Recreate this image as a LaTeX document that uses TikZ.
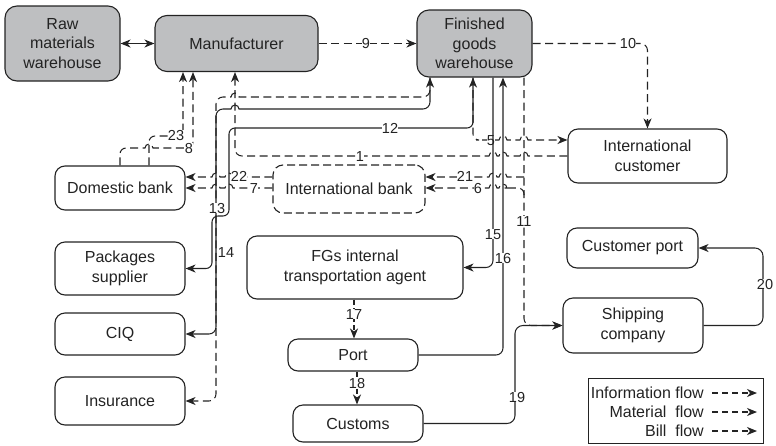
\documentclass[tikz,border=0pt]{standalone}
\usepackage{fontspec}
\setmainfont{Liberation Sans}
\usetikzlibrary{arrows.meta}
\definecolor{boxgray}{RGB}{190,191,193}
\definecolor{ink}{RGB}{35,35,35}

\begin{document}
\begin{tikzpicture}[x=1pt,y=1pt,
  >={Stealth[length=10pt,width=8pt,inset=3pt]},
  box/.style={draw=ink, fill=white, line width=1.1pt, rounded corners=10pt, align=center,
    font=\fontsize{16}{19.5}\selectfont, inner sep=0pt, text=ink},
  gbox/.style={box, fill=boxgray, rounded corners=12pt},
  dbox/.style={box, dash pattern=on 8pt off 4pt},
  ln/.style={draw=ink, line width=1.05pt},
  info/.style={ln, dash pattern=on 8pt off 4.5pt},
  sinfo/.style={ln, dash pattern=on 5pt off 3.5pt},
  mat/.style={ln},
  lbl/.style={fill=white, inner sep=0pt, text height=10.4pt, text depth=0pt,
    font=\fontsize{14.5}{14.5}\selectfont, text=ink},
  nolbl/.style={inner sep=0pt, text height=10.4pt, text depth=0pt,
    font=\fontsize{14.5}{14.5}\selectfont, text=ink},
  lgtext/.style={anchor=east, inner sep=0pt, font=\fontsize{16}{16}\selectfont, text=ink},
  hopR/.style 2 args={insert path={-- ({#1-4},{#2}) arc[start angle=180,end angle=0,radius=4]}},
  hopL/.style 2 args={insert path={-- ({#1+4},{#2}) arc[start angle=0,end angle=180,radius=4]}},
]
\useasboundingbox (0,0) rectangle (776,-445);

% ---------- nodes ----------
\node[gbox, minimum width=115pt, minimum height=75pt] (raw) at (62.5,-43.5) {Raw\\materials\\warehouse};
\node[gbox, minimum width=163pt, minimum height=56pt] (manu) at (236.5,-43.5) {Manufacturer};
\node[gbox, minimum width=115pt, minimum height=67pt] (fg) at (474.5,-43.5) {Finished\\goods\\warehouse};
\node[box, minimum width=159pt, minimum height=54pt] (ic) at (647.5,-156) {International\\customer};
\node[box, minimum width=130pt, minimum height=44pt] (db) at (120,-188) {Domestic bank};
\node[dbox, minimum width=152pt, minimum height=48pt] (ib) at (349,-189) {International bank};
\node[box, minimum width=130pt, minimum height=53pt] (ps) at (120,-268.5) {Packages\\supplier};
\node[box, minimum width=130pt, minimum height=42pt] (ciq) at (120,-334) {CIQ};
\node[box, minimum width=130pt, minimum height=48pt] (ins) at (120,-401) {Insurance};
\node[box, minimum width=216pt, minimum height=63pt] (agent) at (355,-267.5) {FGs internal\\transportation agent};
\node[box, minimum width=130pt, minimum height=32pt] (port) at (353,-355) {Port};
\node[box, minimum width=130pt, minimum height=37pt] (customs) at (358,-423.5) {Customs};
\node[box, minimum width=131pt, minimum height=40pt] (cport) at (632.5,-248) {Customer port};
\node[box, minimum width=140pt, minimum height=55pt] (ship) at (633,-325.5) {Shipping\\company};

% ---------- top row ----------
\draw[mat,<->] (raw.east) -- (raw.east -| manu.west);
\draw[info,->] (manu.east) -- (fg.west);
\node[lbl] (n9) at (366,-43.5) {9};
\draw[info,->,rounded corners=7] (fg.east) -- (647.5,-43.5) -- (ic.north);
\node[lbl] (n10) at (628,-43.5) {10};

% ---------- domestic bank to manufacturer ----------
\draw[info,->,rounded corners=6] (db.north -| 149,0) -- (149,-136) -- (183,-136) -- (manu.south -| 183,0);
\node[lbl] (n23) at (176,-135.5) {23};
\draw[info,->] (db.north -| 120,0) [rounded corners=6] -- (120,-148) -- (135,-148)
  [sharp corners] [hopR={149}{-148}] -- (165,-148) [rounded corners=6] -- (193,-148) -- (manu.south -| 193,0);
\node[lbl] (n8) at (189,-148) {8};

% ---------- international customer to manufacturer ----------
\draw[info,->] (ic.west) [hopL={524}{-156}] [hopL={503}{-156}] [hopL={493}{-156}]
  -- (300,-156) [rounded corners=7] -- (235,-156) -- (manu.south -| 235,0);
\node[lbl] (n1) at (360,-156) {1};

% ---------- finished goods warehouse to international customer ----------
\draw[info,->] (fg.south -| 473,0) [rounded corners=6] -- (473,-140) -- (482,-140)
  [sharp corners] [hopR={503}{-140}] [hopR={524}{-140}] -- (ic.west |- 0,-140);
\node[lbl] (n5) at (491,-140) {5};

% ---------- left trunk lines ----------
\draw[mat,<->,rounded corners=6] (ps.east) -- (212,-268.5) -- (212,-216) -- (229,-216)
  -- (229,-128) -- (473,-128) -- (fg.south -| 473,0);
\node[lbl] (n12) at (390,-128) {12};
\draw[mat,<->] (fg.south -| 430,0) [rounded corners=7] -- (430,-109) -- (300,-109)
  [sharp corners] [hopL={235}{-109}] -- (228,-109) [rounded corners=7] -- (216,-109) -- (216,-334) -- (ciq.east);
\draw[info,->] (fg.south -| 430,0) [rounded corners=7] -- (430,-97) -- (300,-97)
  [sharp corners] [hopL={235}{-97}] -- (228,-97) [rounded corners=7] -- (216,-97) -- (216,-401) -- (ins.east);
\node[lbl] (n13) at (217,-208) {13};
\node[nolbl] (n14) at (226,-252) {14};

% ---------- banks ----------
\draw[info,->] (ib.west |- 0,-177) [hopL={229}{-177}] [hopL={216}{-177}] -- (db.east |- 0,-177);
\node[lbl] (n22) at (239,-176) {22};
\draw[info,->] (ib.west |- 0,-188) [hopL={229}{-188}] [hopL={216}{-188}] -- (db.east |- 0,-188);
\node[lbl] (n7) at (254,-188) {7};

\coordinate (j21) at (524,-177);
\coordinate (j6) at (524,-195);
\draw[info,->] (j21) -- (510,-177) [hopL={503}{-177}] [hopL={493}{-177}] -- (ib.east |- 0,-177);
\node[lbl] (n21) at (465,-176.5) {21};
\draw[info,->] (j6) [rounded corners=6] -- (524,-188) -- (510,-188)
  [sharp corners] [hopL={503}{-188}] [hopL={493}{-188}] -- (ib.east |- 0,-188);
\node[lbl] (n6) at (478,-188) {6};

% ---------- right trunk lines ----------
\draw[info,->,rounded corners=7] (fg.south -| 524,0) -- (524,-325.5) -- (ship.west);
\node[lbl] (n11) at (524,-221) {11};
\draw[mat,->,rounded corners=7] (fg.south -| 493,0) -- (493,-267.5) -- (agent.east);
\node[lbl] (n15) at (493,-234) {15};
\draw[mat,->,rounded corners=7] (port.east) -- (503,-355) -- (fg.south -| 503,0);
\node[lbl] (n16) at (503,-258) {16};

% ---------- transport chain ----------
\draw[sinfo,->] (agent.south -| 354,0) -- (port.north -| 354,0);
\node[lbl] (n17) at (354,-314) {17};
\draw[sinfo,->] (port.south -| 357,0) -- (customs.north -| 357,0);
\node[lbl] (n18) at (357,-383) {18};
\draw[mat,->,rounded corners=8] (customs.east) -- (515,-423.5) -- (515,-325.5) -- (ship.west);
\node[lbl] (n19) at (517,-397) {19};
\draw[mat,->,rounded corners=8] (ship.east) -- (763,-325.5) -- (763,-248) -- (cport.east);
\node[lbl] (n20) at (765,-284) {20};

% ---------- legend ----------
\node[draw=ink, line width=0.9pt, minimum width=175pt, minimum height=65pt, inner sep=0pt] (legend) at (675.5,-410.5) {};
\node[lgtext] (lg1) at (704,-393) {Information flow};
\node[lgtext] (lg2) at (704,-412) {Material\ \ flow};
\node[lgtext] (lg3) at (704,-431) {Bill\ \ flow};
\coordinate (la1) at (712,-393); \coordinate (lb1) at (757,-393);
\coordinate (la2) at (712,-412); \coordinate (lb2) at (757,-412);
\coordinate (la3) at (712,-431); \coordinate (lb3) at (757,-431);
\draw[ln, dash pattern=on 6pt off 4pt,->] (la1) -- (lb1);
\draw[ln, dash pattern=on 6pt off 4pt,->] (la2) -- (lb2);
\draw[ln, dash pattern=on 6pt off 4pt,->] (la3) -- (lb3);
\end{tikzpicture}
\end{document}
